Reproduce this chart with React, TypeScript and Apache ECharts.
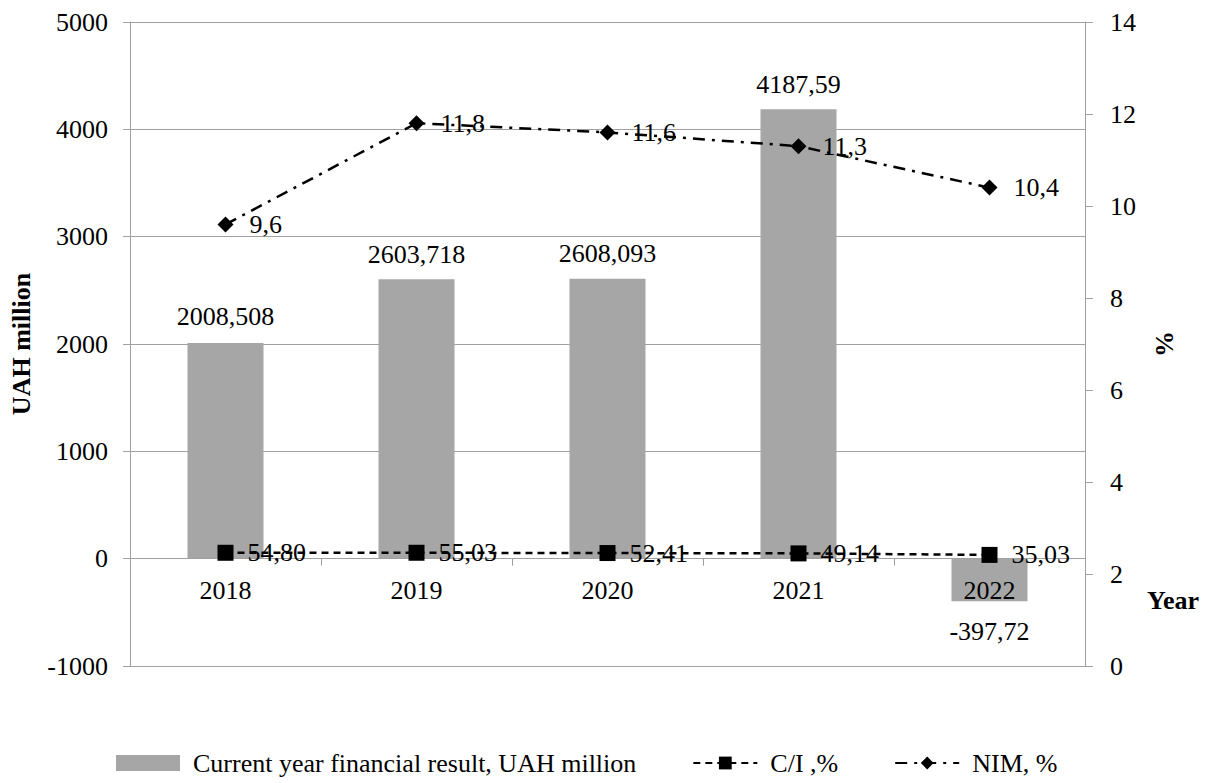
import React, { useEffect, useRef } from "react";
import * as echarts from "echarts";

const categories = ["2018", "2019", "2020", "2021", "2022"];
const financialResult = [2008.508, 2603.718, 2608.093, 4187.59, -397.72];
const ciRatio = [54.8, 55.03, 52.41, 49.14, 35.03];
const nimRatio = [9.6, 11.8, 11.6, 11.3, 10.4];
const leftTicks = { min: -1000, max: 5000, interval: 1000 };
const rightTicks = { min: 0, max: 14, interval: 2 };

const SERIES_BAR = "Current year financial result, UAH million";
const SERIES_CI = "C/I ,%";
const SERIES_NIM = "NIM, %";

const FONT = "Liberation Serif";
const FS = 26;
const AXIS_GRAY = "#a0a0a0";

export default function App() {
  const ref = useRef<HTMLDivElement>(null);

  useEffect(() => {
    if (!ref.current) return;
    const chart = echarts.init(ref.current, undefined, { renderer: "svg" });
    const comma = (s: string) => s.replace(".", ",");
    const txt = { fontFamily: FONT, fontSize: FS, color: "#000" };

    const barData = financialResult.map((v, i) =>
      v < 0
        ? { value: v, label: { position: "bottom", distance: 17 } }
        : { value: v, label: { position: "top", distance: i === 0 ? 14 : 12 } }
    );

    // zero of the left axis, measured from the bottom of the grid
    const gridTop = 22;
    const gridBottom = 117;
    const gridH = 783 - gridTop - gridBottom;
    const zeroFromBottom = (gridH * (0 - leftTicks.min)) / (leftTicks.max - leftTicks.min);

    const option: any = {
      animation: false,
      textStyle: { fontFamily: FONT, color: "#000" },
      grid: { left: 129, right: 128, top: gridTop, bottom: gridBottom, containLabel: false },
      legend: {
        left: 111,
        top: 745,
        itemWidth: 64,
        itemHeight: 16,
        itemGap: 56,
        textStyle: { ...txt, padding: [0, 0, 0, 8] },
        data: [
          { name: SERIES_BAR, icon: "rect" },
          { name: SERIES_CI },
          { name: SERIES_NIM },
        ],
      },
      xAxis: {
        type: "category",
        data: categories,
        z: 5,
        offset: -zeroFromBottom,
        axisLine: { show: true, onZero: false, lineStyle: { color: AXIS_GRAY, width: 1 } },
        axisTick: { show: true, inside: false, length: 7, lineStyle: { color: AXIS_GRAY } },
        axisLabel: { ...txt, margin: 19 },
        splitLine: { show: false },
      },
      yAxis: [
        {
          type: "value",
          min: leftTicks.min,
          max: leftTicks.max,
          interval: leftTicks.interval,
          name: "UAH million",
          nameLocation: "middle",
          nameGap: 96,
          nameTextStyle: { ...txt, fontWeight: "bold" },
          axisLine: { show: true, lineStyle: { color: AXIS_GRAY } },
          axisTick: { show: true, length: 7, lineStyle: { color: AXIS_GRAY } },
          axisLabel: { ...txt, margin: 22, formatter: (v: number) => String(v) },
          splitLine: { show: true, lineStyle: { color: AXIS_GRAY, width: 1 } },
        },
        {
          type: "value",
          position: "right",
          min: rightTicks.min,
          max: rightTicks.max,
          interval: rightTicks.interval,
          name: "%",
          nameLocation: "middle",
          nameGap: 66,
          nameTextStyle: { ...txt, fontWeight: "bold" },
          axisLine: { show: true, lineStyle: { color: AXIS_GRAY } },
          axisTick: { show: true, length: 8, lineStyle: { color: AXIS_GRAY } },
          axisLabel: { ...txt, margin: 25, formatter: (v: number) => String(v) },
          splitLine: { show: false },
        },
      ],
      series: [
        {
          name: SERIES_BAR,
          type: "bar",
          yAxisIndex: 0,
          barWidth: 76,
          data: barData,
          itemStyle: { color: "#a6a6a6" },
          label: {
            show: true,
            ...txt,
            formatter: (p: any) => comma(String(p.value)),
          },
        },
        {
          name: SERIES_CI,
          type: "line",
          yAxisIndex: 0,
          z: 6,
          data: ciRatio,
          symbol: "rect",
          symbolSize: 16,
          itemStyle: { color: "#000" },
          lineStyle: { color: "#000", width: 2.5, type: [7, 5] },
          label: {
            show: true,
            position: "right",
            distance: 14,
            ...txt,
            formatter: (p: any) => comma(Number(p.value).toFixed(2)),
          },
        },
        {
          name: SERIES_NIM,
          type: "line",
          yAxisIndex: 1,
          z: 6,
          data: nimRatio,
          symbol: "diamond",
          symbolSize: [16, 16],
          itemStyle: { color: "#000" },
          lineStyle: { color: "#000", width: 2.5, type: [12, 7, 3, 7] },
          label: {
            show: true,
            position: "right",
            distance: 16,
            ...txt,
            formatter: (p: any) => comma(Number(p.value).toFixed(1)),
          },
        },
      ],
      graphic: [
        {
          type: "text",
          left: 1147,
          top: 587,
          style: { text: "Year", fontFamily: FONT, fontSize: FS, fontWeight: "bold", fill: "#000" },
        },
      ],
    };

    chart.setOption(option);
    return () => chart.dispose();
  }, []);

  return (
    <div
      ref={ref}
      style={{ position: "fixed", left: 0, top: 0, width: 1213, height: 783, background: "#fff" }}
    />
  );
}
